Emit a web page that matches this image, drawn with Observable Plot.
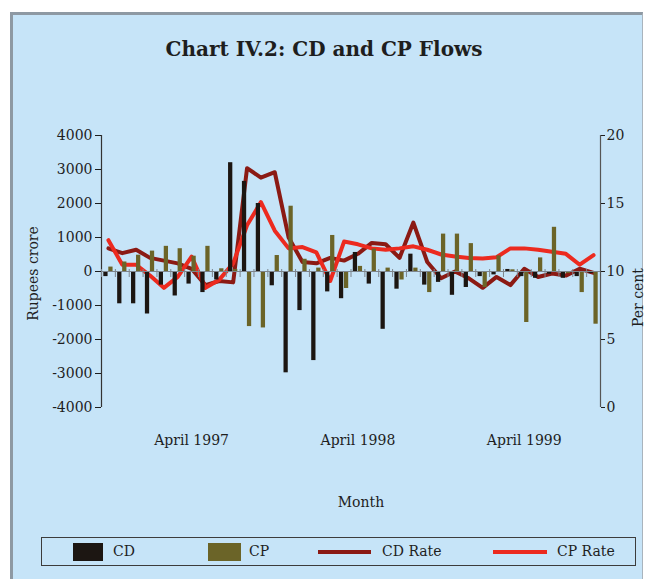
<!DOCTYPE html>
<html><head><meta charset="utf-8">
<script src="https://cdn.jsdelivr.net/npm/d3@7"></script>
<script src="https://cdn.jsdelivr.net/npm/@observablehq/plot@0.6"></script>
<style>
body{margin:0;background:#fff;}
#wrap{position:relative;width:648px;height:579px;overflow:hidden;font-family:"DejaVu Serif",serif;color:#1e1e1e;}
#panel{position:absolute;left:10px;top:12px;width:629px;height:580px;background:#c6e4f8;border-left:3px solid #8e99a3;border-top:3px solid #8e99a3;border-right:1px solid #a9b4bd;}
#title{position:absolute;left:0;width:648px;top:37px;text-align:center;font-weight:bold;font-size:20px;}
#chart{position:absolute;left:0;top:100px;}
#legend{position:absolute;left:41px;top:537px;width:593px;height:27px;border:1.5px solid #3c3c3c;font-size:14px;}
#legend div{position:absolute;}
.lt{top:4px;line-height:18px;}
</style></head>
<body>
<div id="wrap">
  <div id="panel"></div>
  <div id="title">Chart IV.2: CD and CP Flows</div>
  <div id="chart"></div>
  <div id="legend">
    <div style="left:31px;top:5px;width:30px;height:18px;background:#1c1612"></div>
    <div class="lt" style="left:71px">CD</div>
    <div style="left:166px;top:5px;width:33px;height:18px;background:#6b6428"></div>
    <div class="lt" style="left:207px">CP</div>
    <div style="left:276px;top:12px;width:53px;height:4px;background:#8b1a14"></div>
    <div class="lt" style="left:340px">CD Rate</div>
    <div style="left:451px;top:12px;width:54px;height:4px;background:#ec2a1f"></div>
    <div class="lt" style="left:515px">CP Rate</div>
  </div>
</div>
<script>
const months = ["1996-10","1996-11","1996-12","1997-01","1997-02","1997-03","1997-04","1997-05","1997-06","1997-07","1997-08","1997-09",
  "1997-10","1997-11","1997-12","1998-01","1998-02","1998-03","1998-04","1998-05","1998-06","1998-07","1998-08","1998-09",
  "1998-10","1998-11","1998-12","1999-01","1999-02","1999-03","1999-04","1999-05","1999-06","1999-07","1999-08","1999-09"];
const cdFlow = [-150,-950,-950,-1250,-400,-720,-370,-620,-250,3200,2650,2000,-420,-2980,-1150,-2620,-600,-800,560,-370,-1700,-520,510,-400,-320,-700,-470,-150,-100,60,-150,-200,-80,-200,-150,-60];
const cpFlow = [130,280,480,600,740,670,450,740,80,60,-1620,-1660,470,1920,360,100,1060,-500,150,660,100,-250,100,-620,1100,1100,820,-470,460,50,-1500,400,1300,-60,-620,-1550];
const cdRate = [11.7,11.35,11.6,11.0,10.8,10.6,10.2,9.0,9.3,9.2,17.6,16.9,17.3,12.5,10.7,10.6,11.0,10.8,11.3,12.1,12.0,11.0,13.6,10.7,9.5,10.0,9.5,8.8,9.6,9.0,10.2,9.6,9.85,9.7,10.2,9.9];
const cpRate = [12.3,10.5,10.5,9.7,8.8,9.6,11.1,8.8,9.4,10.6,13.4,15.1,13.0,11.7,11.8,11.4,9.3,12.2,12.0,11.7,11.6,11.7,11.85,11.6,11.25,11.1,11.0,10.95,11.05,11.7,11.7,11.6,11.45,11.3,10.5,11.2];
const leftTicks = [-4000,-3000,-2000,-1000,0,1000,2000,3000,4000];
const rightTicks = [0,5,10,15,20];
const xTicks = ["1997-04","1998-04","1999-04"];

const data = months.map((m, i) => ({m, cd: cdFlow[i], cp: cpFlow[i], cdr: cdRate[i], cpr: cpRate[i]}));
// secondary axis: 0..20 per cent maps onto -4000..4000 rupees crore
const toFlow = r => (r - 10) * 400;

const W = 648, H = 420, ML = 101, MR = 48, MT = 35, MB = 113;
const bw = (W - ML - MR) / months.length;

const chart = Plot.plot({
  width: W, height: H,
  marginLeft: ML, marginRight: MR, marginTop: MT, marginBottom: MB,
  style: {background: "transparent", fontFamily: "DejaVu Serif, serif", fontSize: "14px", color: "#1e1e1e", overflow: "visible"},
  x: {type: "band", domain: months, padding: 0},
  y: {domain: [-4000, 4000]},
  marks: [
    Plot.ruleX([months[0]], {dx: -bw / 2, stroke: "#333", strokeWidth: 1.2}),
    Plot.ruleX([months[months.length - 1]], {dx: bw / 2, stroke: "#555", strokeWidth: 1.2}),
    Plot.line(data, {x: "m", y: d => toFlow(d.cdr), stroke: "#8b1a14", strokeWidth: 4, strokeLinejoin: "round"}),
    Plot.line(data, {x: "m", y: d => toFlow(d.cpr), stroke: "#ec2a1f", strokeWidth: 4, strokeLinejoin: "round"}),
    Plot.barY(data, {x: "m", y: "cd", fill: "#1c1612", insetLeft: 2.3, insetRight: 7.3}),
    Plot.barY(data, {x: "m", y: "cp", fill: "#6b6428", insetLeft: 7.3, insetRight: 2.3}),
    Plot.ruleY([0], {stroke: "#7d858c", strokeWidth: 1.2}),
    Plot.ruleX(months, {dx: -bw / 2, y1: 0, y2: 0, insetTop: -2, insetBottom: -6, stroke: "#7d858c"}),
    Plot.axisY({anchor: "left", ticks: leftTicks, tickFormat: d => String(d), tickSize: 6, tickPadding: 3, label: null}),
    Plot.axisY({anchor: "right", ticks: rightTicks.map(toFlow), tickFormat: d => d / 400 + 10, tickSize: 4, tickPadding: 2, label: null}),
    Plot.axisX({ticks: xTicks, tickFormat: d => "April " + d.slice(0, 4), tickSize: 0, tickPadding: 28, label: null}),
    Plot.text(["Month"], {text: d => d, frameAnchor: "bottom", textAnchor: "middle", dx: 10, dy: 99}),
    Plot.text(["Rupees crore"], {text: d => d, frameAnchor: "left", textAnchor: "middle", rotate: -90, dx: -68, dy: 2}),
    Plot.text(["Per cent"], {text: d => d, frameAnchor: "right", textAnchor: "middle", rotate: -90, dx: 38, dy: 26})
  ]
});
document.getElementById("chart").appendChild(chart);
</script>
</body></html>
